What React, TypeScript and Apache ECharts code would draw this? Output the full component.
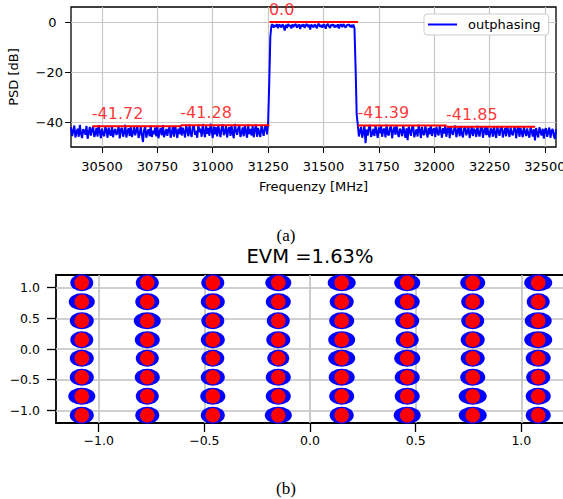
import React, { useEffect, useRef } from 'react';
import * as echarts from 'echarts';

// ---------- (a) PSD data ----------
const FREQ_START = 30360; // MHz, first sample
const FREQ_STEP = 5; // MHz between samples

const psdLowerAdjacent = [
  -42.1, -45.6, -43.8, -41.4, -46.2, -44.0, -42.7, -45.9, -41.2, -44.6,
  -46.4, -42.9, -43.5, -45.1, -41.6, -46.7, -44.2, -42.0, -45.4, -43.1,
  -41.8, -46.0, -44.7, -42.4, -45.8, -41.3, -43.9, -46.5, -42.6, -44.9,
  -45.7, -41.9, -43.3, -46.3, -42.2, -44.5, -45.5, -41.5, -46.1, -43.6,
  -42.8, -45.2, -44.1, -41.7, -46.6, -43.0, -42.3, -45.9, -44.4, -41.1,
  -46.2, -43.7, -42.5, -45.6, -41.9, -46.0, -44.3, -42.1, -45.3, -43.4,
  -41.6, -46.4, -44.8, -42.0, -45.1, -48.0, -43.2, -41.8, -46.3, -44.0,
  -42.9, -45.7, -41.4, -46.0, -43.5, -44.9, -42.2, -45.8, -41.7, -46.5,
  -43.8, -42.4, -45.3, -41.2, -46.1, -44.6, -42.8, -45.5, -43.0, -41.9,
  -46.3, -44.2, -42.0, -45.9, -41.5, -43.7, -46.4, -42.6, -44.8, -41.3,
  -45.4, -42.3, -44.0, -46.2, -41.1, -43.4, -45.7, -40.9, -44.5, -46.0,
  -42.0, -41.4, -45.2, -43.6, -46.3, -41.0, -44.1, -42.7, -45.9, -40.8,
  -43.9, -46.1, -41.6, -44.7, -42.4, -45.5, -40.7, -43.3, -46.4, -41.8,
  -44.9, -42.1, -45.8, -41.2, -43.8, -46.0, -42.5, -40.9, -45.3, -44.2,
  -41.5, -46.2, -43.1, -42.0, -45.6, -41.3, -44.6, -46.5, -40.8, -43.5,
  -45.1, -42.6, -41.1, -46.0, -44.3, -42.2, -45.7, -41.4, -43.9, -46.3,
  -40.9, -44.8, -42.8, -45.4, -41.6, -46.1, -43.2, -41.0, -45.9, -42.4,
  -44.4, -46.0, -41.3, -43.7, -45.5, -42.1, -41.2, -45.0,
];
const psdRisingEdge = [-40.5, -25.0, -6.0];
const psdInBand = [
  -1.4, -0.9, -2.3, -1.2, -1.9, -0.8, -2.5, -1.0, -1.5, -2.2,
  -0.9, -1.8, -3.4, -1.1, -2.4, -0.8, -1.6, -1.3, -2.6, -0.9,
  -2.0, -1.2, -0.8, -2.3, -1.4, -1.0, -2.8, -1.1, -1.8, -0.9,
  -2.4, -1.3, -0.8, -2.0, -1.1, -3.0, -1.0, -1.6, -2.2, -0.9,
  -1.5, -2.5, -1.0, -0.8, -2.0, -1.2, -2.3, -0.9, -1.4, -2.7,
  -1.1, -0.8, -1.8, -2.4, -1.0, -1.5, -0.9, -2.2, -1.3, -2.0,
  -0.9, -2.6, -1.2, -1.0, -2.1, -0.8, -1.6, -2.3, -1.1, -1.4,
  -0.9, -2.0, -1.2, -2.2, -1.0,
];
const psdFallingEdge = [-2.5, -18.0, -37.0];
const psdUpperAdjacent = [
  -41.2, -45.8, -43.5, -42.0, -46.3, -44.1, -41.6, -48.5, -43.0, -45.4,
  -42.3, -41.1, -46.0, -44.7, -42.8, -45.6, -41.5, -43.9, -46.4, -42.1,
  -44.5, -41.3, -45.9, -43.2, -42.6, -46.2, -41.0, -44.8, -45.3, -42.4,
  -41.7, -46.5, -43.6, -42.0, -45.1, -41.4, -44.3, -46.0, -42.7, -43.4,
  -45.7, -41.2, -44.0, -46.3, -42.5, -47.3, -41.8, -43.7, -45.5, -42.2,
  -41.4, -46.1, -44.4, -42.9, -45.8, -41.1, -43.3, -46.4, -42.0, -44.7,
  -45.2, -41.6, -43.8, -46.2, -42.3, -44.9, -41.3, -45.6, -43.1, -42.6,
  -46.0, -41.9, -44.2, -45.4, -41.5, -43.6, -46.3, -42.4, -44.6, -41.2,
  -45.9, -43.0, -42.1, -46.5, -41.7, -44.3, -45.1, -42.8, -41.4, -46.1,
  -43.5, -42.2, -45.7, -41.6, -44.8, -46.2, -42.5, -41.9, -45.3, -43.9,
  -42.0, -46.4, -44.1, -41.8, -45.6, -42.7, -43.4, -46.0, -41.5, -44.5,
  -45.8, -42.3, -41.7, -46.3, -43.7, -42.1, -45.2, -41.9, -44.9, -46.1,
  -42.6, -43.2, -45.9, -41.6, -44.6, -46.4, -42.0, -43.8, -45.5, -42.4,
  -41.8, -46.2, -44.0, -42.5, -45.7, -41.9, -43.6, -46.0, -42.2, -44.7,
  -45.3, -42.8, -41.7, -46.5, -43.3, -42.1, -45.9, -42.4, -44.2, -46.1,
  -42.0, -43.9, -45.6, -42.6, -44.8, -46.3, -42.2, -43.5, -45.8, -42.9,
  -47.4, -42.4, -44.5, -46.2, -42.1, -43.8, -45.4, -42.7, -46.6, -43.1,
  -42.5, -45.9, -44.1, -42.2, -46.3, -43.6, -42.8, -45.5, -46.8, -42.9,
];

const channelEdges = [30456, 30856, 31256, 31656, 32056, 32456];
const channelPower = [-41.72, -41.28, 0.0, -41.39, -41.85];
const channelLabels = ['-41.72', '-41.28', '0.0', '-41.39', '-41.85'];

const psdXTicks = [30500, 30750, 31000, 31250, 31500, 31750, 32000, 32250, 32500];
const psdYTicks = [-40, -20, 0];

// ---------- (b) constellation data ----------
const qamLevels = [-1.08, -0.77, -0.46, -0.15, 0.15, 0.46, 0.77, 1.08];
// horizontal extent of each received cluster (rows top -> bottom, cols left -> right)
const clusterWidthPx = [
  [23, 23, 23, 26, 28, 26, 25, 28],
  [26, 24, 24, 25, 24, 25, 23, 23],
  [24, 27, 23, 23, 25, 24, 23, 27],
  [23, 25, 24, 24, 27, 23, 24, 28],
  [24, 23, 23, 22, 27, 26, 24, 25],
  [24, 25, 24, 25, 26, 25, 25, 24],
  [27, 23, 25, 25, 25, 25, 28, 25],
  [24, 24, 24, 27, 24, 27, 28, 25],
];
const evmTicks = [-1.0, -0.5, 0.0, 0.5, 1.0];
const evmPercent = 1.63;

const FONT = 'DejaVu Sans';
const ELLIPSE = 'path://M0,10 A10,10 0 1,1 20,10 A10,10 0 1,1 0,10 Z';

const minus = (s: string) => s.replace('-', '\u2212');

function gridCarrier(xi: number, xs: number[], ys: number[], color: string, width: number) {
  return {
    type: 'line',
    name: 'grid' + xi,
    xAxisIndex: xi,
    yAxisIndex: xi,
    data: [],
    silent: true,
    z: 1,
    markLine: {
      z: 1,
      silent: true,
      symbol: ['none', 'none'],
      label: { show: false },
      lineStyle: { color, width, type: 'solid' },
      emphasis: { disabled: true },
      animation: false,
      data: [...xs.map((x) => ({ xAxis: x })), ...ys.map((y) => ({ yAxis: y }))],
    },
  };
}

export default function App() {
  const ref = useRef<HTMLDivElement>(null);

  useEffect(() => {
    const chart = echarts.init(ref.current as HTMLDivElement, null, { renderer: 'svg' });

    const psdValues = [
      ...psdLowerAdjacent,
      ...psdRisingEdge,
      ...psdInBand,
      ...psdFallingEdge,
      ...psdUpperAdjacent,
    ];
    const psdData = psdValues.map((v, i) => [FREQ_START + i * FREQ_STEP, v]);

    const channelSeries = channelPower.map((p, i) => ({
      type: 'line',
      name: 'ch' + i,
      xAxisIndex: 0,
      yAxisIndex: 0,
      data: [
        [channelEdges[i], p],
        [channelEdges[i + 1], p],
      ],
      showSymbol: false,
      symbol: 'none',
      lineStyle: { color: '#ff0000', width: 2 },
      z: 3,
      silent: true,
    }));

    const labelData = channelPower.map((p, i) => ({
      value: [channelEdges[i], p],
      label: { formatter: channelLabels[i] },
    }));

    const blueData: any[] = [];
    const redData: any[] = [];
    for (let r = 0; r < 8; r++) {
      const y = qamLevels[7 - r];
      for (let c = 0; c < 8; c++) {
        const x = qamLevels[c];
        blueData.push([x, y, clusterWidthPx[r][c]]);
        redData.push([x, y]);
      }
    }

    const tickStyleA = { show: true, length: 6, inside: false, lineStyle: { color: '#000', width: 1 } };
    const tickStyleB = { show: true, length: 9, inside: false, lineStyle: { color: '#000', width: 1.3 } };
    const noLine = { show: false, onZero: false };

    const option: any = {
      animation: false,
      backgroundColor: '#ffffff',
      textStyle: { fontFamily: FONT },
      grid: [
        {
          left: 71, top: 7, width: 485, height: 140,
          show: true, borderColor: '#000', borderWidth: 1.3, backgroundColor: 'transparent',
          containLabel: false, outerBoundsMode: 'none',
        },
        {
          left: 56, top: 275, width: 508, height: 148,
          show: true, borderColor: '#000', borderWidth: 1.8, backgroundColor: 'transparent',
          containLabel: false, outerBoundsMode: 'none',
        },
      ],
      legend: {
        data: ['outphasing'],
        left: 424,
        top: 14,
        orient: 'horizontal',
        icon: 'rect',
        itemWidth: 29,
        itemHeight: 2,
        padding: [4, 8, 4, 4],
        borderColor: '#cccccc',
        borderWidth: 1,
        borderRadius: 3,
        backgroundColor: '#ffffff',
        textStyle: { fontFamily: FONT, fontSize: 13, color: '#000', padding: [0, 0, 0, 6] },
        selectedMode: false,
        z: 10,
      },
      xAxis: [
        {
          type: 'value', gridIndex: 0, min: 30360, max: 32550,
          name: 'Frequenzy [MHz]', nameLocation: 'middle', nameGap: 33,
          nameTextStyle: { fontFamily: FONT, fontSize: 13, color: '#000' },
          axisLine: noLine,
          axisTick: { ...tickStyleA, customValues: psdXTicks },
          axisLabel: {
            customValues: psdXTicks, fontFamily: FONT, fontSize: 13, color: '#000', margin: 13,
            formatter: (v: number) => minus(String(v)),
          },
          splitLine: { show: false },
        },
        {
          type: 'value', gridIndex: 1, min: -1.202, max: 1.202,
          axisLine: noLine,
          axisTick: { ...tickStyleB, customValues: evmTicks },
          axisLabel: {
            customValues: evmTicks, fontFamily: FONT, fontSize: 12.5, color: '#000', margin: 11,
            formatter: (v: number) => minus(v.toFixed(1)),
          },
          splitLine: { show: false },
        },
      ],
      yAxis: [
        {
          type: 'value', gridIndex: 0, min: -50, max: 6,
          name: 'PSD [dB]', nameLocation: 'middle', nameGap: 51,
          nameTextStyle: { fontFamily: FONT, fontSize: 13, color: '#000' },
          axisLine: noLine,
          axisTick: { ...tickStyleA, customValues: psdYTicks },
          axisLabel: {
            customValues: psdYTicks, fontFamily: FONT, fontSize: 13, color: '#000', margin: 8,
            formatter: (v: number) => (v === 0 ? '0\u2002' : minus(String(v))),
          },
          splitLine: { show: false },
        },
        {
          type: 'value', gridIndex: 1, min: -1.205, max: 1.205,
          axisLine: noLine,
          axisTick: { ...tickStyleB, customValues: evmTicks },
          axisLabel: {
            customValues: evmTicks, fontFamily: FONT, fontSize: 12.5, color: '#000', margin: 16,
            formatter: (v: number) => minus(v.toFixed(1)),
          },
          splitLine: { show: false },
        },
      ],
      graphic: [
        {
          type: 'text', x: 286, y: 235,
          style: { text: '(a)', font: '17px "Liberation Serif"', fill: '#000', align: 'center', verticalAlign: 'middle' },
        },
        {
          type: 'text', x: 286, y: 488,
          style: { text: '(b)', font: '17px "Liberation Serif"', fill: '#000', align: 'center', verticalAlign: 'middle' },
        },
        {
          type: 'text', x: 310, y: 256,
          style: {
            text: `EVM =${evmPercent.toFixed(2)}%`, font: '19.5px "DejaVu Sans"', fill: '#000',
            align: 'center', verticalAlign: 'middle',
          },
        },
      ],
      series: [
        gridCarrier(0, psdXTicks, psdYTicks, '#c8c8c8', 1.2),
        gridCarrier(1, evmTicks, evmTicks, '#c0c0c0', 1.6),
        {
          type: 'line', name: 'outphasing', xAxisIndex: 0, yAxisIndex: 0,
          data: psdData, showSymbol: false, symbol: 'none',
          lineStyle: { color: '#0000ff', width: 2 },
          itemStyle: { color: '#0000ff' },
          z: 2, silent: true,
        },
        ...channelSeries,
        {
          type: 'scatter', name: 'labels', xAxisIndex: 0, yAxisIndex: 0,
          data: labelData, symbolSize: 1,
          itemStyle: { color: 'rgba(0,0,0,0)' },
          label: {
            show: true, position: [0, 0], align: 'left', verticalAlign: 'bottom',
            offset: [0, -4], color: '#ff0000', fontFamily: FONT, fontSize: 16,
          },
          z: 4, silent: true,
        },
        {
          type: 'scatter', name: 'received', xAxisIndex: 1, yAxisIndex: 1,
          data: blueData, symbol: ELLIPSE,
          symbolSize: (v: number[]) => [v[2], 17],
          itemStyle: { color: '#0000ff', opacity: 1 },
          z: 2, silent: true,
        },
        {
          type: 'scatter', name: 'ideal', xAxisIndex: 1, yAxisIndex: 1,
          data: redData, symbol: 'circle', symbolSize: 14.5,
          itemStyle: { color: '#ff0000', opacity: 1 },
          z: 3, silent: true,
        },
      ],
    };

    chart.setOption(option);
    return () => chart.dispose();
  }, []);

  return (
    <div
      ref={ref}
      style={{ position: 'fixed', left: 0, top: 0, width: 563, height: 499, background: '#ffffff' }}
    />
  );
}
